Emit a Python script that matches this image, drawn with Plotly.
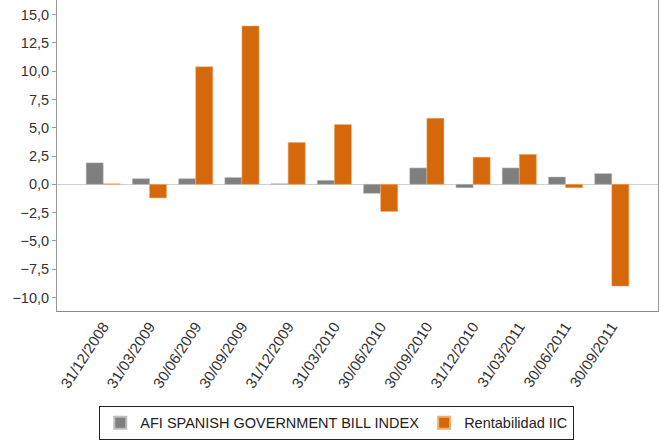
import plotly.graph_objects as go

categories = ["31/12/2008", "31/03/2009", "30/06/2009", "30/09/2009", "31/12/2009",
              "31/03/2010", "30/06/2010", "30/09/2010", "31/12/2010", "31/03/2011",
              "30/06/2011", "30/09/2011"]
afi_index = [1.9, 0.5, 0.5, 0.6, 0.05, 0.35, -0.8, 1.45, -0.3, 1.45, 0.65, 0.95]
rentabilidad = [0.05, -1.2, 10.4, 14.0, 3.7, 5.3, -2.4, 5.85, 2.4, 2.65, -0.3, -9.0]
y_ticks = [15, 12.5, 10, 7.5, 5, 2.5, 0, -2.5, -5, -7.5, -10]

fig = go.Figure()
fig.add_trace(go.Bar(x=categories, y=afi_index, name="AFI SPANISH GOVERNMENT BILL INDEX",
                     marker=dict(color="#7f7f7f", line=dict(color="#bdbdbd", width=0.5))))
fig.add_trace(go.Bar(x=categories, y=rentabilidad, name="Rentabilidad IIC",
                     marker=dict(color="#d5680b", line=dict(color="#f0b070", width=0.5))))

fig.update_layout(
    width=663, height=442,
    margin=dict(l=57, r=5, t=0, b=131),
    paper_bgcolor="white", plot_bgcolor="white",
    barmode="group", bargap=0.26, bargroupgap=0,
    separators=",.",
    font=dict(family="Liberation Sans, Arial, sans-serif", size=12, color="#333333"),
    showlegend=True,
    legend=dict(orientation="h", xref="container", x=0.508, xanchor="center",
                yref="container", y=0.005, yanchor="bottom",
                bordercolor="#222222", borderwidth=1, font=dict(size=14.5, color="#222222"),
                itemsizing="constant", tracegroupgap=0, itemwidth=30),
)
fig.update_xaxes(type="category", range=[-1, 12], tickangle=-57, automargin=False,
                 showline=True, linecolor="#888888", linewidth=1, mirror=True,
                 ticks="", tickfont=dict(size=15, color="#333333"), showgrid=False)
fig.update_yaxes(range=[-11.2, 16.3], tickvals=y_ticks, tickformat=".1f", automargin=False,
                 showline=True, linecolor="#999999", linewidth=1, mirror=True,
                 ticks="outside", ticklen=4, tickcolor="#999999",
                 showgrid=False, zeroline=True, zerolinecolor="#d0d0d0", zerolinewidth=1,
                 tickfont=dict(size=14.5, color="#333333"))

fig.write_html("out.html", config={"displayModeBar": False},
               post_script="document.body.style.margin='0';document.body.style.overflow='hidden';")
